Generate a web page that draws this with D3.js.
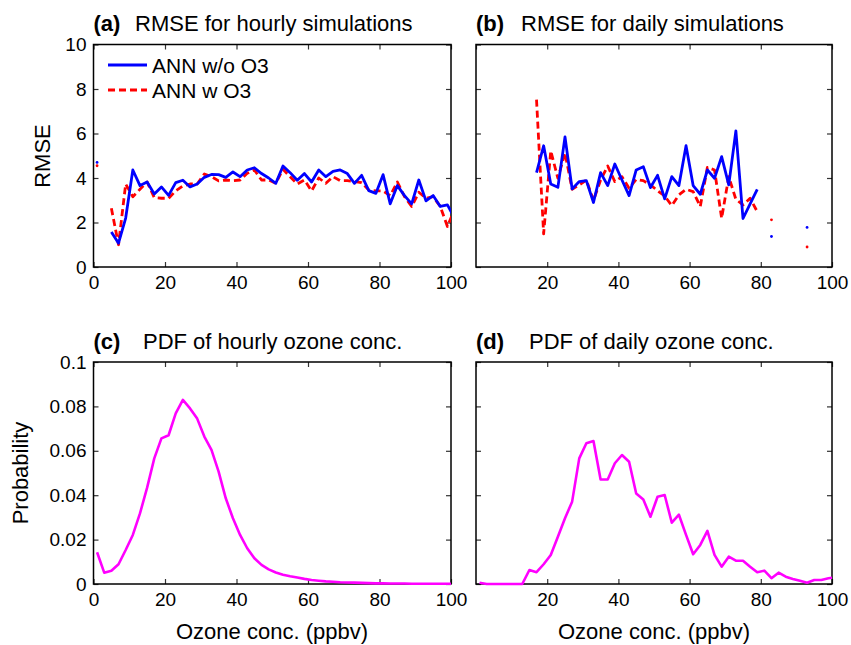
<!DOCTYPE html>
<html lang="en">
<head>
    <meta charset="UTF-8"/>
    <title>RMSE and ozone PDF</title>
    <script src="https://d3js.org/d3.v7.min.js"></script>
    <style>
        body { margin: 0; background: #fff; }
        svg text { font-family: "Liberation Sans", Arial, Helvetica, sans-serif; fill: #000; }
    </style>
</head>
<body>
<div id="chart"></div>

<script>
    // bin centres (ppbv) shared by every series
    var binX = [1, 3, 5, 7, 9, 11, 13, 15, 17, 19, 21, 23, 25, 27, 29, 31, 33, 35, 37, 39,
        41, 43, 45, 47, 49, 51, 53, 55, 57, 59, 61, 63, 65, 67, 69, 71, 73, 75, 77, 79,
        81, 83, 85, 87, 89, 91, 93, 95, 97, 99, 101];

    // (a) RMSE, hourly
    var hourlyNoO3 = [4.7, null, 1.57, 1.07, 2.2, 4.36, 3.66, 3.82, 3.28, 3.6, 3.22, 3.79, 3.9, 3.6, 3.73, 4.03, 4.16, 4.15, 4.03, 4.27,
        4.06, 4.36, 4.46, 4.2, 4.0, 3.76, 4.54, 4.24, 3.9, 4.2, 3.82, 4.36, 4.06, 4.3, 4.36, 4.2, 3.76, 4.12, 3.43, 3.31,
        4.15, 2.84, 3.66, 3.21, 2.84, 3.91, 2.97, 3.21, 2.72, 2.79, 2.2];
    var hourlyO3 = [4.55, null, 2.64, 1.0, 3.73, 3.16, 3.49, 3.82, 3.12, 3.09, 3.09, 3.42, 3.64, 3.73, 3.73, 4.18, 4.06, 3.87, 3.91, 3.88,
        3.91, 4.21, 4.36, 3.91, 3.91, 3.76, 4.39, 4.06, 3.73, 3.91, 3.42, 4.0, 3.76, 4.06, 3.88, 3.88, 3.84, 3.79, 3.46, 3.42,
        3.42, 3.21, 3.82, 3.16, 2.72, 3.36, 3.09, 3.16, 2.72, 1.82, 2.6];

    // (b) RMSE, daily
    var dailyNoO3 = [null, null, null, null, null, null, null, null, 4.24, 5.45, 3.73, 3.58, 5.85, 3.51, 3.84, 3.88, 2.9, 4.24, 3.66, 4.63,
        3.91, 3.21, 4.36, 4.51, 3.57, 4.12, 3.06, 4.06, 3.66, 5.45, 3.66, 3.27, 4.36, 3.99, 4.96, 3.69, 6.12, 2.18, 2.84, 3.49,
        null, 1.37, null, null, null, null, 1.78, null, null, null, null];
    var dailyO3 = [null, null, null, null, null, null, null, null, 7.52, 1.49, 5.22, 3.99, 5.13, 3.49, 3.69, 3.91, 2.99, 3.91, 4.54, 3.84,
        4.06, 3.54, 3.94, 3.88, 3.69, 3.43, 3.19, 2.76, 3.24, 3.49, 3.39, 2.72, 4.48, 4.36, 2.19, 4.06, 3.04, 2.79, 3.09, 2.49,
        null, 2.12, null, null, null, null, 0.9, null, null, null, null];

    // (c) and (d) probability density of ozone
    var pdfHourly = [0.0143, 0.0051, 0.006, 0.0089, 0.0153, 0.0221, 0.0318, 0.0434, 0.0566, 0.0656, 0.067, 0.0769, 0.0829, 0.0791, 0.0745, 0.0664, 0.0604, 0.0506, 0.0386, 0.0296,
        0.0221, 0.0161, 0.0116, 0.0086, 0.0066, 0.0052, 0.0042, 0.0035, 0.0029, 0.0023, 0.0018, 0.0015, 0.0012, 0.001, 0.0008, 0.0007, 0.0006, 0.0005, 0.0004, 0.0003,
        0.0003, 0.0002, 0.0002, 0.0002, 0.0001, 0.0001, 0.0001, 0.0001, 0.0001, 0.0001, 0.0001];
    var pdfDaily = [0.0006, 0, 0, 0, 0, 0, 0, 0.0063, 0.0053, 0.0089, 0.0131, 0.0213, 0.0296, 0.0371, 0.0566, 0.0634, 0.0644, 0.0471, 0.0471, 0.0544,
        0.0581, 0.0551, 0.0408, 0.0381, 0.0303, 0.0393, 0.0401, 0.0276, 0.0312, 0.0221, 0.0134, 0.0176, 0.0239, 0.0131, 0.0078, 0.0123, 0.0105, 0.0105, 0.0078, 0.0053,
        0.006, 0.0026, 0.0051, 0.0033, 0.0023, 0.0015, 0.0006, 0.0018, 0.0018, 0.0026, 0.003];

    var xTicksFull = [0, 20, 40, 60, 80, 100];
    var xTicksNoZero = [20, 40, 60, 80, 100];
    var rmseTicks = [0, 2, 4, 6, 8, 10];
    var probTicks = [0, 0.02, 0.04, 0.06, 0.08, 0.1];

    var width = 851;
    var height = 645;
    var svg = d3.select("#chart").append("svg").attr("width", width).attr("height", height);

    var cols = [{left: 93.5, right: 451}, {left: 476, right: 832}];
    var rows = [{top: 44.5, bottom: 267}, {top: 362, bottom: 584}];

    function panel(id, col, row, yMax, yTicks, yFmt, xLabels, showYLabels, tag, title, titleX) {
        var c = cols[col], r = rows[row];
        var x = d3.scaleLinear().domain([0, 100]).range([c.left, c.right]);
        var y = d3.scaleLinear().domain([0, yMax]).range([r.bottom, r.top]);

        svg.append("clipPath").attr("id", "clip" + id)
            .append("rect").attr("x", c.left).attr("y", r.top - 2)
            .attr("width", c.right - c.left).attr("height", r.bottom - r.top + 4);

        // inward ticks on all four sides
        var bottom = svg.append("g").attr("transform", "translate(0," + r.bottom + ")")
            .call(d3.axisBottom(x).tickValues(xLabels).tickSize(-5).tickPadding(9));
        var top = svg.append("g").attr("transform", "translate(0," + r.top + ")")
            .call(d3.axisTop(x).tickValues(xTicksFull).tickSize(-5).tickFormat(""));
        var left = svg.append("g").attr("transform", "translate(" + c.left + ",0)")
            .call(d3.axisLeft(y).tickValues(yTicks).tickSize(-5).tickPadding(7)
                .tickFormat(showYLabels ? yFmt : ""));
        var right = svg.append("g").attr("transform", "translate(" + c.right + ",0)")
            .call(d3.axisRight(y).tickValues(yTicks).tickSize(-5).tickFormat(""));
        [bottom, top, left, right].forEach(function (g) {
            g.select(".domain").remove();
            g.selectAll(".tick line").attr("stroke", "#333").attr("stroke-width", 1.2);
            g.selectAll(".tick text").style("font-size", "19px")
                .style("font-family", '"Liberation Sans", Arial, sans-serif');
        });

        svg.append("rect").attr("x", c.left).attr("y", r.top)
            .attr("width", c.right - c.left).attr("height", r.bottom - r.top)
            .attr("fill", "none").attr("stroke", "#000").attr("stroke-width", 1.5);

        var t = svg.append("text").attr("x", c.left).attr("y", r.top - 13.5).style("font-size", "22px");
        t.append("tspan").style("font-weight", "bold").text(tag);
        t.append("tspan").attr("x", titleX).text(title);

        return {x: x, y: y, clip: "url(#clip" + id + ")"};
    }

    function series(p, values, color, dash, w) {
        var pts = binX.map(function (d, i) { return [d, values[i]]; });
        var line = d3.line()
            .defined(function (d) { return d[1] !== null; })
            .x(function (d) { return p.x(d[0]); })
            .y(function (d) { return p.y(d[1]); });
        svg.append("path").datum(pts)
            .attr("clip-path", p.clip)
            .attr("fill", "none").attr("stroke", color).attr("stroke-width", w)
            .attr("stroke-dasharray", dash).attr("stroke-linejoin", "round")
            .attr("d", line);
        // lone values with no neighbour show up as dots
        var lone = pts.filter(function (d, i) {
            return d[1] !== null && (i === 0 || pts[i - 1][1] === null) && (i === pts.length - 1 || pts[i + 1][1] === null);
        });
        svg.selectAll(null).data(lone).enter().append("circle")
            .attr("cx", function (d) { return p.x(d[0]); })
            .attr("cy", function (d) { return p.y(d[1]); })
            .attr("r", 1.4).attr("fill", color);
    }

    var pa = panel("a", 0, 0, 10, rmseTicks, d3.format("d"), xTicksFull, true, "(a)", "RMSE for hourly simulations", 135);
    var pb = panel("b", 1, 0, 10, rmseTicks, d3.format("d"), xTicksNoZero, false, "(b)", "RMSE for daily simulations", 521);
    var pc = panel("c", 0, 1, 0.1, probTicks, function (d) { return d === 0 ? "0" : d3.format(".2~f")(d); }, xTicksFull, true, "(c)", "PDF of hourly ozone conc.", 143);
    var pd = panel("d", 1, 1, 0.1, probTicks, null, xTicksNoZero, false, "(d)", "PDF of daily ozone conc.", 529);

    series(pa, hourlyO3, "#ff0000", "7,4", 2.8);
    series(pa, hourlyNoO3, "#0000ff", null, 2.8);
    series(pb, dailyO3, "#ff0000", "7,4", 2.8);
    series(pb, dailyNoO3, "#0000ff", null, 2.8);
    series(pc, pdfHourly, "#ff00ff", null, 2.6);
    series(pd, pdfDaily, "#ff00ff", null, 2.6);

    // legend inside (a)
    var legend = [{name: "ANN w/o O3", color: "#0000ff", dash: null, y: 65},
        {name: "ANN w O3", color: "#ff0000", dash: "7,4", y: 90}];
    legend.forEach(function (l) {
        svg.append("line").attr("x1", 108).attr("x2", 147).attr("y1", l.y).attr("y2", l.y)
            .attr("stroke", l.color).attr("stroke-width", 2.8).attr("stroke-dasharray", l.dash);
        svg.append("text").attr("x", 152).attr("y", l.y + 7.5).style("font-size", "21px").text(l.name);
    });

    // axis titles
    svg.append("text").attr("transform", "translate(50,156) rotate(-90)")
        .attr("text-anchor", "middle").style("font-size", "22px").text("RMSE");
    svg.append("text").attr("transform", "translate(28,473) rotate(-90)")
        .attr("text-anchor", "middle").style("font-size", "22px").text("Probability");
    svg.append("text").attr("x", 272).attr("y", 639).attr("text-anchor", "middle")
        .style("font-size", "22px").text("Ozone conc. (ppbv)");
    svg.append("text").attr("x", 654).attr("y", 639).attr("text-anchor", "middle")
        .style("font-size", "22px").text("Ozone conc. (ppbv)");
</script>
</body>
</html>
